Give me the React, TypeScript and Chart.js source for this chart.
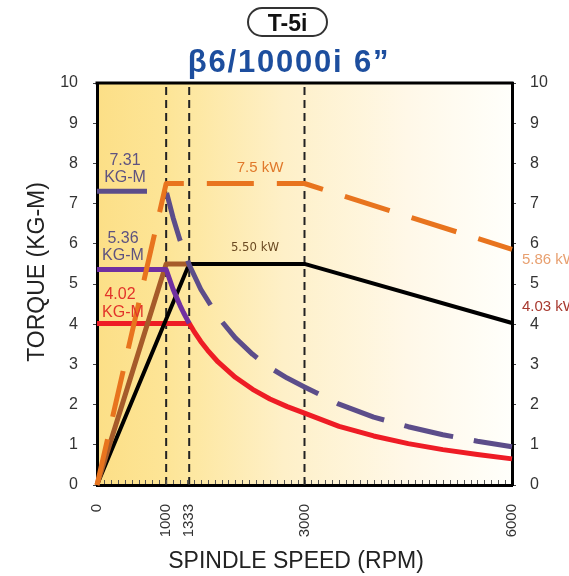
import React, { useEffect, useRef } from "react";
import { Chart, registerables } from "chart.js";

Chart.register(...registerables);

// ---------- data ----------
const xTickValues = [0, 1000, 1333, 3000, 6000];
const markerRpm = [1000, 1333, 3000];

// 30-min / peak power (kW) - orange dashed
const peakPowerRpm = [0, 1000, 3000, 6000];
const peakPowerKw = [0, 7.5, 7.5, 5.86];

// continuous power (kW) - black
const contPowerRpm = [0, 1333, 3000, 6000];
const contPowerKw = [0, 5.5, 5.5, 4.03];

// brown power ramp
const rampPowerRpm = [0, 1000, 1333];
const rampPowerKw = [0, 5.5, 5.5];

// 5.36 KG-M torque - purple solid
const midTorqueRpm = [0, 1000, 1100, 1200, 1250, 1333];
const midTorque = [5.36, 5.36, 4.87, 4.47, 4.29, 4.02];

// 4.02 KG-M continuous torque - red
const contTorqueRpm = [0, 1333, 1400, 1500, 1600, 1750, 2000, 2250, 2500, 2750, 3000, 3500, 4000, 4500, 5000, 5500, 6000];
const contTorque = [4.02, 4.02, 3.83, 3.57, 3.35, 3.06, 2.68, 2.38, 2.14, 1.95, 1.79, 1.46, 1.22, 1.03, 0.88, 0.76, 0.65];

// 7.31 KG-M peak torque - purple dashed
const peakTorqueRpm = [0, 1000, 1100, 1200, 1333, 1500, 1750, 2000, 2250, 2500, 2750, 3000, 3500, 4000, 4500, 5000, 5500, 6000];
const peakTorque = [7.31, 7.31, 6.65, 6.09, 5.48, 4.87, 4.18, 3.66, 3.25, 2.92, 2.66, 2.44, 2.01, 1.69, 1.45, 1.25, 1.09, 0.95];

const FONT = "'Liberation Sans', Arial, Helvetica, sans-serif";

const pts = (xs: number[], ys: number[]) => xs.map((x, i) => ({ x, y: ys[i] }));

const decorPlugin = {
  id: "decor",
  beforeDraw(chart: any) {
    const { ctx, chartArea: a } = chart;
    const g = ctx.createLinearGradient(a.left, 0, a.right, 0);
    g.addColorStop(0, "#FCDF87");
    g.addColorStop(0.17, "#FDE597");
    g.addColorStop(0.45, "#FEF0C8");
    g.addColorStop(0.75, "#FFF8E8");
    g.addColorStop(1, "#FFFFFB");
    ctx.save();
    ctx.fillStyle = g;
    ctx.fillRect(a.left, a.top, a.right - a.left, a.bottom - a.top);
    ctx.restore();
  },
  afterDatasetsDraw(chart: any) {
    const { ctx, scales, chartArea: a } = chart;
    const x = scales.x;
    const y = scales.y;
    const txt = (s: string, rpm: number, v: number, color: string, font: string, align: CanvasTextAlign = "center") => {
      ctx.save();
      ctx.fillStyle = color;
      ctx.font = font;
      ctx.textAlign = align;
      ctx.textBaseline = "middle";
      ctx.fillText(s, x.getPixelForValue(rpm), y.getPixelForValue(v));
      ctx.restore();
    };
    const f16 = `16px ${FONT}`;
    txt("7.31", 405, 8.08, "#5E5380", f16);
    txt("KG-M", 405, 7.64, "#5E5380", f16);
    txt("5.36", 376, 6.14, "#5E5380", f16);
    txt("KG-M", 376, 5.70, "#5E5380", f16);
    txt("4.02", 333, 4.73, "#E2332A", f16);
    txt("KG-M", 376, 4.28, "#E2332A", f16);
    txt("7.5 kW", 2357, 7.89, "#E0782A", `15px ${FONT}`);
    txt("5.50 kW", 2284, 5.9, "#6B4A22", `13px 'Liberation Sans Narrow', 'DejaVu Sans Condensed', ${FONT}`);
    // right side labels
    ctx.save();
    ctx.font = `15px ${FONT}`;
    ctx.textAlign = "left";
    ctx.textBaseline = "middle";
    ctx.fillStyle = "#E8A070";
    ctx.fillText("5.86 kW", a.right + 10, y.getPixelForValue(5.6));
    ctx.fillStyle = "#A83A30";
    ctx.fillText("4.03 kW", a.right + 10, y.getPixelForValue(4.43));
    ctx.restore();
  },
  afterDraw(chart: any) {
    const { ctx, chartArea: a, scales } = chart;
    ctx.save();
    // top frame line
    ctx.strokeStyle = "#000";
    ctx.lineWidth = 3;
    ctx.beginPath();
    ctx.moveTo(a.left - 1.5, a.top);
    ctx.lineTo(a.right + 1.5, a.top);
    ctx.stroke();
    // minor ticks along the bottom, inside
    ctx.strokeStyle = "#555";
    ctx.lineWidth = 1;
    ctx.beginPath();
    for (let v = 100; v < 6000; v += 100) {
      const px = Math.round(scales.x.getPixelForValue(v)) + 0.5;
      ctx.moveTo(px, a.bottom - 1);
      ctx.lineTo(px, a.bottom - 5);
    }
    ctx.stroke();
    // axis titles
    ctx.fillStyle = "#222";
    ctx.font = `23px ${FONT}`;
    ctx.textAlign = "center";
    ctx.textBaseline = "middle";
    ctx.fillText("SPINDLE SPEED (RPM)", 296, 562);
    ctx.translate(38, 272);
    ctx.rotate(-Math.PI / 2);
    ctx.fillText("TORQUE (KG-M)", 0, 0);
    ctx.restore();
  },
};

export default function App() {
  const ref = useRef<HTMLCanvasElement | null>(null);

  useEffect(() => {
    if (!ref.current) return;
    const line = (data: any[], color: string, width: number, dash: number[] = []) => ({
      data,
      borderColor: color,
      backgroundColor: color,
      borderWidth: width,
      borderDash: dash,
      pointRadius: 0,
      fill: false,
      tension: 0,
      clip: false as any,
      borderCapStyle: "butt" as const,
      borderJoinStyle: "round" as const,
    });
    const datasets: any[] = [
      line(pts(peakPowerRpm, peakPowerKw), "#E8741E", 5, [47, 23]),
      line(pts(peakTorqueRpm, peakTorque), "#5C4D8A", 5, [50, 21]),
      line(pts(midTorqueRpm, midTorque), "#7030A0", 5),
      line(pts(rampPowerRpm, rampPowerKw), "#A65B2A", 5),
      line(pts(contPowerRpm, contPowerKw), "#000000", 4),
      line(pts(contTorqueRpm, contTorque), "#EE1C25", 5),
      ...markerRpm.map((r) => line([{ x: r, y: 0 }, { x: r, y: 10 }], "#222222", 2, [8, 5])),
    ];
    const tickFont = { family: FONT, size: 16 };
    const chart = new Chart(ref.current, {
      type: "line",
      data: { datasets },
      plugins: [decorPlugin],
      options: {
        animation: false,
        responsive: false,
        events: [],
        layout: { padding: { top: 83, left: 0, right: 0, bottom: 0 } },
        plugins: {
          legend: { display: false },
          tooltip: { enabled: false },
          title: { display: false },
        },
        scales: {
          x: {
            type: "linear",
            min: 0,
            max: 6000,
            afterBuildTicks: (s: any) => {
              s.ticks = xTickValues.map((v) => ({ value: v }));
            },
            afterFit: (s: any) => {
              s.height = 91;
            },
            ticks: {
              autoSkip: false,
              minRotation: 90,
              maxRotation: 90,
              padding: 19,
              color: "#333",
              font: { family: FONT, size: 15 },
              callback: (v: any) => String(v),
            },
            grid: { display: true, drawOnChartArea: false, drawTicks: false },
            border: { display: true, color: "#000", width: 3 },
          },
          y: {
            type: "linear",
            position: "left",
            min: 0,
            max: 10,
            afterFit: (s: any) => {
              s.width = 97;
            },
            ticks: { stepSize: 1, padding: 15, color: "#333", font: tickFont },
            grid: { drawOnChartArea: false, drawTicks: true, tickLength: 4, color: "#444" },
            border: { display: true, color: "#000", width: 3 },
          },
          y2: {
            type: "linear",
            position: "right",
            min: 0,
            max: 10,
            afterFit: (s: any) => {
              s.width = 57;
            },
            ticks: { stepSize: 1, padding: 14, color: "#333", font: tickFont },
            grid: { drawOnChartArea: false, drawTicks: true, tickLength: 4, color: "#444" },
            border: { display: true, color: "#000", width: 3 },
          },
        },
      },
    } as any);
    return () => chart.destroy();
  }, []);

  return (
    <div style={{ position: "fixed", left: 0, top: 0, width: 569, height: 576, overflow: "hidden", background: "#fff" }}>
      <canvas ref={ref} width={569} height={576} style={{ position: "absolute", left: 0, top: 0, width: 569, height: 576 }} />
      <div
        style={{
          position: "absolute",
          left: 247,
          top: 7,
          width: 81,
          height: 30,
          boxSizing: "border-box",
          border: "2px solid #333",
          borderRadius: 15,
          paddingTop: 3,
          lineHeight: "23px",
          textAlign: "center",
          fontFamily: FONT,
          fontWeight: "bold",
          fontSize: 23,
          color: "#111",
        }}
      >
        T-5i
      </div>
      <div
        style={{
          position: "absolute",
          left: 89,
          top: 46,
          width: 400,
          lineHeight: "31px",
          textAlign: "center",
          fontFamily: FONT,
          fontWeight: "bold",
          fontSize: 31,
          letterSpacing: "1.8px",
          color: "#1D4E9E",
          whiteSpace: "nowrap",
        }}
      >
        β6/10000i 6”
      </div>
    </div>
  );
}
